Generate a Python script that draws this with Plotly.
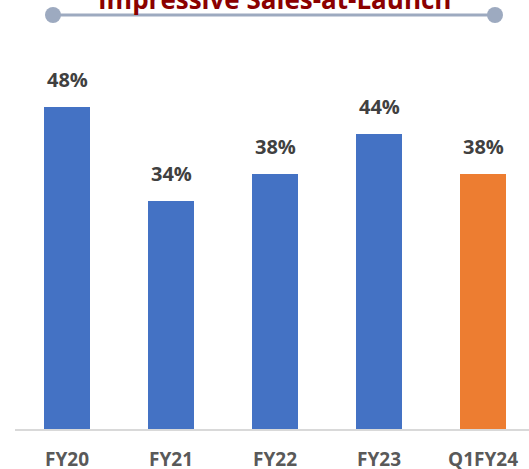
import plotly.graph_objects as go

categories = ["FY20", "FY21", "FY22", "FY23", "Q1FY24"]
values = [48, 34, 38, 44, 38]
labels = ["48%", "34%", "38%", "44%", "38%"]
colors = ["#4472C4", "#4472C4", "#4472C4", "#4472C4", "#ED7D31"]
title_text = "Impressive Sales-at-Launch"

FONT = "Open Sans"

fig = go.Figure()
fig.add_trace(go.Bar(
    x=categories, y=values, width=0.44,
    marker=dict(color=colors, line=dict(width=0)),
    hoverinfo="skip",
))

for c, v, t in zip(categories, values, labels):
    fig.add_annotation(x=c, y=v, text=f"<b>{t}</b>", showarrow=False,
                       yanchor="bottom", yshift=12,
                       font=dict(family=FONT, size=20, color="#404040"))

# Title decoration
yline = (429 - 15) / 389
xl, xr = (53 - 15) / 514, (495 - 15) / 514
shapes = [dict(type="line", xref="paper", yref="paper", x0=xl, x1=xr, y0=yline, y1=yline,
               line=dict(color="#9DAAC0", width=3), layer="above")]
for xa in (xl, xr):
    shapes.append(dict(type="circle", xref="paper", yref="paper",
                       xsizemode="pixel", ysizemode="pixel",
                       xanchor=xa, yanchor=yline, x0=-8, x1=8, y0=-8, y1=8,
                       fillcolor="#9DAAC0", line=dict(width=0), layer="above"))

fig.add_annotation(xref="paper", yref="paper", x=(274 - 15) / 514, y=(429 + 1) / 389,
                   text=f"<b>{title_text}</b>", showarrow=False, yanchor="middle",
                   font=dict(family=FONT, size=26, color="#8B0000"))

fig.update_layout(
    width=529, height=469,
    margin=dict(l=15, r=0, t=40, b=40, pad=0, autoexpand=False),
    paper_bgcolor="white", plot_bgcolor="white",
    showlegend=False, shapes=shapes,
    bargap=0,
    xaxis=dict(type="category", range=[-0.5, 4.442], showgrid=False, automargin=False,
               showline=True, linecolor="#D9D9D9", linewidth=1.5,
               ticks="", ticklen=0,
               tickmode="array", tickvals=categories,
               ticktext=[f"<b>{c}</b>" for c in categories],
               tickfont=dict(family=FONT, size=19, color="#595959")),
    yaxis=dict(range=[0, 57.97], visible=False, showgrid=False, zeroline=False, automargin=False),
)
fig.update_xaxes(ticklabelstandoff=12)
fig.write_html("out.html", config={"displayModeBar": False},
               post_script="document.body.style.margin='0';document.body.style.overflow='hidden';")
